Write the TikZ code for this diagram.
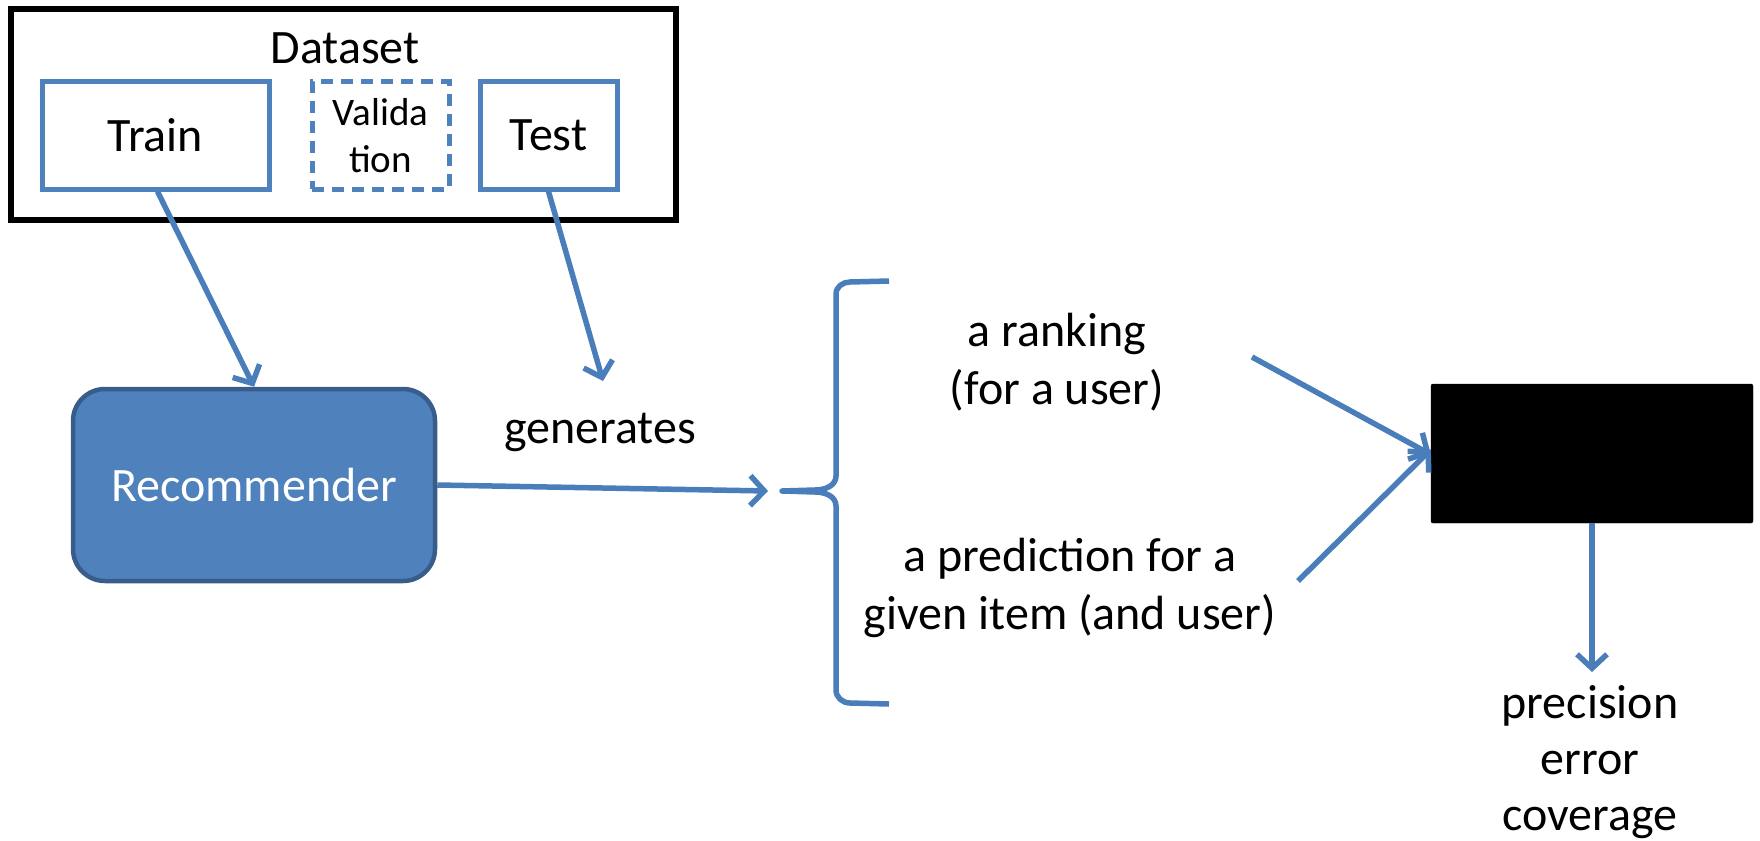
\documentclass[tikz,border=0pt]{standalone}
\usepackage{fontspec}
\setmainfont{Carlito}
\usetikzlibrary{arrows.meta}
\definecolor{obl}{HTML}{4F81BD}
\definecolor{ln}{HTML}{4A7EBB}
\definecolor{dbl}{HTML}{385D8A}
\tikzset{
  txt/.style={font=\fontsize{48}{58}\selectfont, align=center, inner sep=0pt},
  part/.style={draw=obl, line width=5pt, font=\fontsize{48}{58}\selectfont, align=center, inner sep=0pt, minimum height=107pt},
  conn/.style={draw=ln, line width=5.5pt, -{Straight Barb[length=14pt,width=30pt]}},
  bracepath/.style={draw=ln, line width=5.5pt, line join=round},
}
\begin{document}
\begin{tikzpicture}[x=1pt,y=-1pt]
\useasboundingbox (0,0) rectangle (1760,840);

% Dataset container
\node[draw=black, line width=6pt, minimum width=665pt, minimum height=211pt, inner sep=0pt] (ds) at (343.5,114.5) {};
\node[txt] (dstitle) at (345,48) {Dataset};
\node[part, minimum width=227pt] (train) at (155.5,135.5) {Train};
\node[part, dashed, dash pattern=on 12pt off 8pt, minimum width=137pt, font=\fontsize{39}{47}\selectfont] (val) at (380.5,135.5) {Valida\\tion};
\node[part, minimum width=137pt] (test) at (548.5,135.5) {Test};

% Recommender
\node[draw=dbl, fill=obl, line width=4.5pt, rounded corners=32pt, minimum width=362pt, minimum height=192pt, text=white, font=\fontsize{48}{58}\selectfont, inner sep=0pt] (rec) at (254,485) {Recommender};

% generates
\node[txt] (gen) at (600,432) {generates};

% brace
\coordinate (brtip) at (782,491);
\coordinate (brtop) at (889,281);
\coordinate (brbot) at (889,704);
\draw[bracepath] (brtop) -- (850,282) to[out=180,in=90] (836,294) -- (836,476)
  to[out=-90,in=0] (815,490) -- (brtip) -- (815,492) to[out=0,in=90] (836,506)
  -- (836,690) to[out=-90,in=180] (850,703) -- (brbot);

% outputs
\node[txt] (rank) at (1057,362) {a ranking\\(for a user)};
\node[txt] (pred) at (1070,588) {a prediction for a\\given item (and user)};

% evaluation box
\node[fill=black, draw=black, rounded corners=2pt, minimum width=322pt, minimum height=139pt, inner sep=0pt] (eval) at (1592,453.5) {};
\node[txt, font=\fontsize{48}{56}\selectfont] (metrics) at (1590,762) {precision\\error\\coverage};

% free ends
\coordinate (rankout) at (1252,357);
\coordinate (predout) at (1298,581);
\coordinate (genin) at (603,381);
\coordinate (brin) at (768,491);
\coordinate (metin) at (1592,672);

% connectors
\draw[conn] (train.south) ++(2,0) -- (rec.north);
\draw[conn] (test.south) -- (genin);
\draw[conn] (rec.east) -- (brin);
\draw[conn] (rankout) -- ([yshift=-1pt]eval.west);
\draw[conn] (predout) -- ([yshift=4pt]eval.west);
\draw[conn] (eval.south) -- (metin);
\end{tikzpicture}
\end{document}
